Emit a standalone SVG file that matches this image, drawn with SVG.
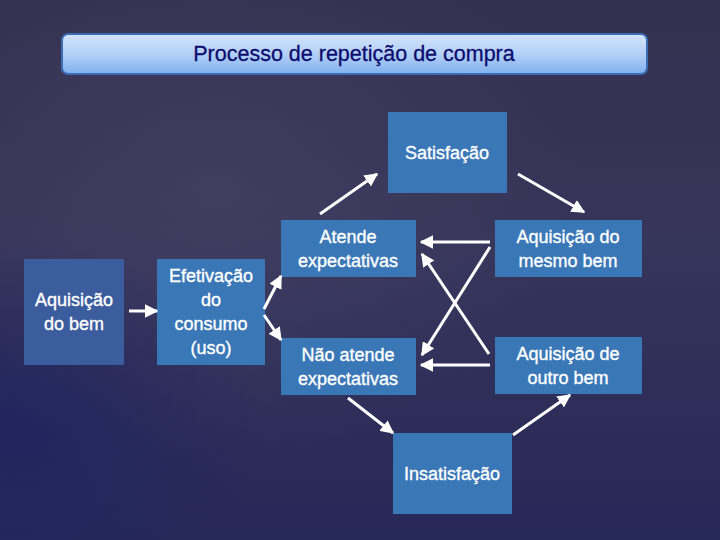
<svg xmlns="http://www.w3.org/2000/svg" width="720" height="540" viewBox="0 0 720 540">
<defs>
<linearGradient id="bg" x1="0" y1="0" x2="0" y2="1">
<stop offset="0" stop-color="#34304f"/>
<stop offset="0.45" stop-color="#36355a"/>
<stop offset="1" stop-color="#262858"/>
</linearGradient>
<radialGradient id="glow" cx="0.3" cy="0.35" r="0.5">
<stop offset="0" stop-color="#4a4668" stop-opacity="0.5"/>
<stop offset="1" stop-color="#4a4668" stop-opacity="0"/>
</radialGradient>
<radialGradient id="dark" cx="0.02" cy="0.8" r="0.35">
<stop offset="0" stop-color="#1f2460" stop-opacity="0.8"/>
<stop offset="1" stop-color="#1f2460" stop-opacity="0"/>
</radialGradient>
<linearGradient id="tg" x1="0" y1="0" x2="0" y2="1">
<stop offset="0" stop-color="#d3e4fc"/>
<stop offset="0.5" stop-color="#b3d0f7"/>
<stop offset="1" stop-color="#80b1ee"/>
</linearGradient>
<marker id="ah" viewBox="0 0 10 10" refX="9" refY="5" markerWidth="4.5" markerHeight="4.5" orient="auto" markerUnits="strokeWidth">
<path d="M0,0 L10,5 L0,10 z" fill="#ffffff"/>
</marker>
<style>
.box{fill:#3a77b7}
.dk{fill:#3b5c9d}
.t{font-family:"Liberation Sans",Arial,sans-serif;font-size:18px;fill:#ffffff;stroke:#ffffff;stroke-width:0.35;text-anchor:middle}
.c{stroke:#ffffff;stroke-width:3;fill:none;marker-end:url(#ah)}
</style>
</defs>
<rect width="720" height="540" fill="url(#bg)"/>
<rect width="720" height="540" fill="url(#glow)"/>
<rect width="720" height="540" fill="url(#dark)"/>
<g id="title">
<rect x="62" y="34" width="585" height="40" rx="6" fill="url(#tg)" stroke="#3a6cb4" stroke-width="2"/>
<text x="354" y="61" style="font-family:'Liberation Sans',Arial,sans-serif;font-size:21.5px;fill:#0c0c6e;stroke:#0c0c6e;stroke-width:0.3;text-anchor:middle">Processo de repetição de compra</text>
</g>
<g id="aquisicao">
<rect class="dk" x="24" y="259" width="100" height="106"/>
<text class="t" x="74" y="306">Aquisição</text>
<text class="t" x="74" y="330">do bem</text>
</g>
<g id="efetivacao">
<rect class="box" x="157" y="259" width="108" height="106"/>
<text class="t" x="211" y="282">Efetivação</text>
<text class="t" x="211" y="306">do</text>
<text class="t" x="211" y="330">consumo</text>
<text class="t" x="211" y="354">(uso)</text>
</g>
<g id="atende">
<rect class="box" x="281" y="220" width="135" height="57"/>
<text class="t" x="348" y="243">Atende</text>
<text class="t" x="348" y="267">expectativas</text>
</g>
<g id="naoatende">
<rect class="box" x="281" y="338" width="135" height="57"/>
<text class="t" x="348" y="361">Não atende</text>
<text class="t" x="348" y="385">expectativas</text>
</g>
<g id="satisfacao">
<rect class="box" x="388" y="112" width="119" height="81"/>
<text class="t" x="447" y="159">Satisfação</text>
</g>
<g id="mesmo">
<rect class="box" x="495" y="220" width="147" height="57"/>
<text class="t" x="568" y="243">Aquisição do</text>
<text class="t" x="568" y="267">mesmo bem</text>
</g>
<g id="outro">
<rect class="box" x="495" y="337" width="147" height="57"/>
<text class="t" x="568" y="360">Aquisição de</text>
<text class="t" x="568" y="384">outro bem</text>
</g>
<g id="insatisfacao">
<rect class="box" x="393" y="433" width="119" height="81"/>
<text class="t" x="452" y="480">Insatisfação</text>
</g>
<g id="connectors">
<line class="c" x1="129" y1="311" x2="157" y2="311"/>
<line class="c" x1="264" y1="309" x2="281" y2="276"/>
<line class="c" x1="264" y1="315" x2="281" y2="340"/>
<line class="c" x1="320" y1="214" x2="377" y2="174"/>
<line class="c" x1="518" y1="174" x2="584" y2="212"/>
<line class="c" x1="490" y1="242" x2="421" y2="242"/>
<line class="c" x1="490" y1="365" x2="421" y2="365"/>
<line class="c" x1="490" y1="247" x2="422" y2="355"/>
<line class="c" x1="489" y1="354" x2="422" y2="254"/>
<line class="c" x1="348" y1="398" x2="393" y2="433"/>
<line class="c" x1="513" y1="435" x2="570" y2="395"/>
</g>
</svg>
